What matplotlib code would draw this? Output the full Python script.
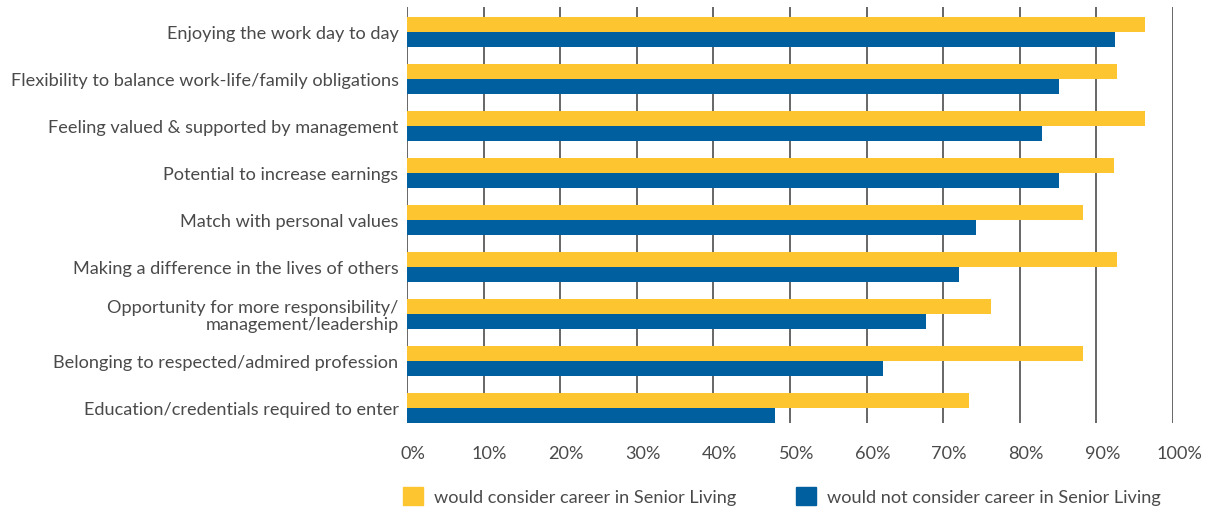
import numpy as np
import matplotlib.pyplot as plt
import matplotlib.transforms as mtransforms
from matplotlib.patches import Patch

plt.rcParams['font.family'] = ['Lato', 'DejaVu Sans']

categories = [
    'Enjoying the work day to day',
    'Flexibility to balance work-life/family obligations',
    'Feeling valued & supported by management',
    'Potential to increase earnings',
    'Match with personal values',
    'Making a difference in the lives of others',
    'Opportunity for more responsibility/\nmanagement/leadership',
    'Belonging to respected/admired profession',
    'Education/credentials required to enter',
]
would = [96.3, 92.7, 96.3, 92.3, 88.3, 92.7, 76.2, 88.3, 73.3]
would_not = [92.4, 85.1, 82.9, 85.1, 74.3, 72.1, 67.8, 62.1, 48.0]
ticks = [0, 10, 20, 30, 40, 50, 60, 70, 80, 90, 100]
series_names = ['would consider career in Senior Living',
                'would not consider career in Senior Living']

yellow = '#FDC52F'
blue = '#005F9E'
txt = '#4a4a4a'
fs = 13.1

fig = plt.figure(figsize=(12.11, 5.10), dpi=100)
ax = fig.add_axes([0.336, 0.1686, 0.6327, 0.8157])

y = np.arange(len(categories))
h = 0.32
ax.barh(y - h / 2, would, height=h, color=yellow, zorder=3)
ax.barh(y + h / 2, would_not, height=h, color=blue, zorder=3)

for t in ticks:
    ax.axvline(t, color='#4d4d4d', lw=1.2, zorder=1)

ax.set_xlim(0, 100)
ax.set_ylim(8.32, -0.53)
ax.set_xticks(ticks)
ax.set_xticklabels([f'{t}%' for t in ticks])
ax.set_yticks(y)
ax.set_yticklabels(categories, linespacing=1.05)
ax.tick_params(axis='x', length=0, pad=16, labelsize=fs, labelcolor=txt)
ax.tick_params(axis='y', length=0, pad=6, labelsize=fs, labelcolor=txt)
for lbl in ax.get_yticklabels():
    lbl.set_horizontalalignment('right')
# percent labels sit a little to the right of their gridlines
shift = mtransforms.ScaledTranslation(6 / 100, 0, fig.dpi_scale_trans)
for lbl in ax.get_xticklabels():
    lbl.set_transform(lbl.get_transform() + shift)
for s in ax.spines.values():
    s.set_visible(False)

handles = [Patch(color=yellow), Patch(color=blue)]
fig.legend(handles, series_names, loc='center left', bbox_to_anchor=(0.319, 0.025),
           ncol=2, frameon=False, handlelength=1.1, handleheight=1.1,
           handletextpad=0.6, columnspacing=3.3, fontsize=fs, labelcolor=txt)

fig.savefig('out.png', dpi=100)
